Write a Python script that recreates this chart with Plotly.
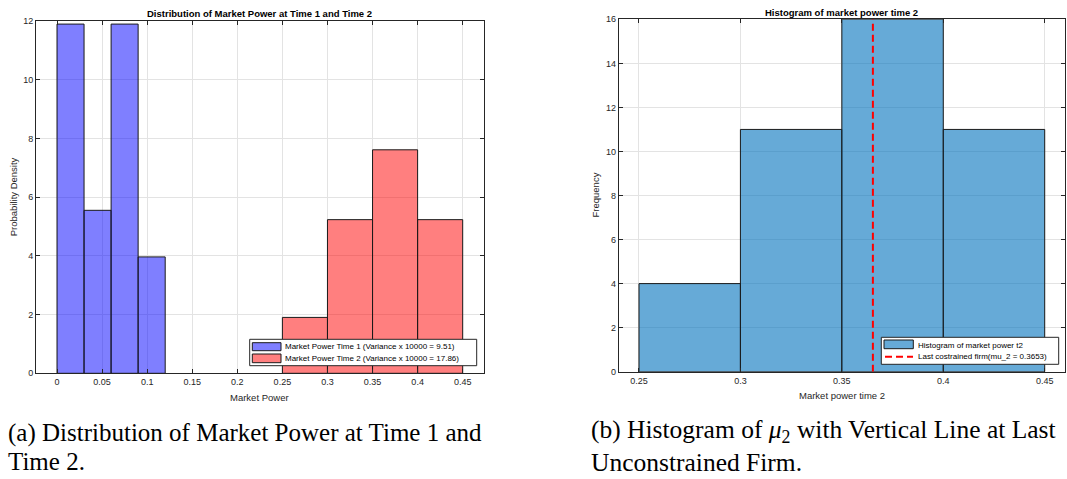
import plotly.graph_objects as go

# ---- data ----
t1_edges = [0.0, 0.03, 0.06, 0.09, 0.12]
t1_density = [11.905, 5.556, 11.905, 3.968]
t2_edges = [0.25, 0.30, 0.35, 0.40, 0.45]
t2_density = [1.905, 5.238, 7.619, 5.238]
t2_counts = [4, 11, 16, 11]
mu2_last = 0.3653

left_xticks = [0, 0.05, 0.1, 0.15, 0.2, 0.25, 0.3, 0.35, 0.4, 0.45]
left_yticks = [0, 2, 4, 6, 8, 10, 12]
right_xticks = [0.25, 0.3, 0.35, 0.4, 0.45]
right_yticks = [0, 2, 4, 6, 8, 10, 12, 14, 16]

name_t1 = "Market Power Time 1 (Variance x 10000 = 9.51)"
name_t2 = "Market Power Time 2 (Variance x 10000 = 17.86)"
name_h2 = "Histogram of market power t2"
name_vl = "Last costrained firm(mu_2 = 0.3653)"

W, H = 1067, 479
BLUE = "rgba(0,0,255,0.5)"
RED = "rgba(255,0,0,0.5)"
HIST = "rgba(0,114,189,0.6)"
EDGE = "#1a1a1a"
SANS = "Liberation Sans, Arial, sans-serif"


def centers(e):
    return [(e[i] + e[i + 1]) / 2 for i in range(len(e) - 1)]


def widths(e):
    return [e[i + 1] - e[i] for i in range(len(e) - 1)]


def px(x):
    return x / W


def py(y):
    return 1 - y / H


fig = go.Figure()

fig.add_trace(go.Bar(
    x=centers(t1_edges), y=t1_density, width=widths(t1_edges),
    marker=dict(color=BLUE, line=dict(color=EDGE, width=1)),
    name=name_t1, xaxis="x", yaxis="y"))
fig.add_trace(go.Bar(
    x=centers(t2_edges), y=t2_density, width=widths(t2_edges),
    marker=dict(color=RED, line=dict(color=EDGE, width=1)),
    name=name_t2, xaxis="x", yaxis="y"))
fig.add_trace(go.Bar(
    x=centers(t2_edges), y=t2_counts, width=widths(t2_edges),
    marker=dict(color=HIST, line=dict(color=EDGE, width=1)),
    name=name_h2, xaxis="x2", yaxis="y2"))
fig.add_trace(go.Scatter(
    x=[mu2_last, mu2_last], y=[0, right_yticks[-1]], mode="lines",
    line=dict(color="#ff0000", width=2, dash="7px,4px"),
    name=name_vl, xaxis="x2", yaxis="y2"))

axis_font = dict(family=SANS, size=9, color="#262626")
common = dict(showline=True, linecolor="#262626", linewidth=1, mirror="ticks",
              ticks="inside", ticklen=4, tickcolor="#262626",
              showgrid=True, gridcolor="#e3e3e3", gridwidth=1,
              zeroline=False, tickfont=axis_font, automargin=False)

L1, R1, T1, B1 = 36, 483.7, 21.3, 373.3
L2, R2, T2, B2 = 618.7, 1065, 19.3, 371.7

fig.update_layout(
    width=W, height=H,
    margin=dict(l=0, r=0, t=0, b=0, autoexpand=False),
    paper_bgcolor="white", plot_bgcolor="white",
    barmode="overlay", bargap=0, showlegend=False,
    xaxis=dict(domain=[px(L1), px(R1)], range=[-0.0233, 0.4733],
               tickvals=left_xticks, anchor="y", **common),
    yaxis=dict(domain=[py(B1), py(T1)], range=[0, 12],
               tickvals=left_yticks, anchor="x", **common),
    xaxis2=dict(domain=[px(L2), px(R2)], range=[0.24, 0.46],
                tickvals=right_xticks, anchor="y2", **common),
    yaxis2=dict(domain=[py(B2), py(T2)], range=[0, 16],
                tickvals=right_yticks, anchor="x2", **common),
)


def ann(text, x, y, size, color="#262626", xanchor="center", angle=0, family=SANS):
    fig.add_annotation(text=text, xref="paper", yref="paper", x=px(x), y=py(y),
                       xanchor=xanchor, yanchor="middle", showarrow=False,
                       textangle=angle, font=dict(family=family, size=size, color=color))


# titles
ann("<b>Distribution of Market Power at Time 1 and Time 2</b>", (L1 + R1) / 2, 14, 9.5, "#000000")
ann("<b>Histogram of market power time 2</b>", (L2 + R2) / 2, 12, 9.5, "#000000")
# axis titles
ann("Market Power", (L1 + R1) / 2, 397, 9.5)
ann("Probability Density", 13, (T1 + B1) / 2, 9.5, angle=-90)
ann("Market power time 2", (L2 + R2) / 2, 395, 9.5)
ann("Frequency", 595, (T2 + B2) / 2, 9.5, angle=-90)


# ---- legends (drawn manually to match compact MATLAB legend) ----
def box(x0, y0, x1, y1, fill, line_color, lw=1):
    fig.add_shape(type="rect", xref="paper", yref="paper",
                  x0=px(x0), x1=px(x1), y0=py(y1), y1=py(y0),
                  fillcolor=fill, line=dict(color=line_color, width=lw), layer="above")


box(249.7, 339.3, 476.7, 365.7, "white", "#262626")
box(252.3, 342.7, 281, 350.7, BLUE, EDGE)
box(252.3, 354, 281, 362.7, RED, EDGE)
ann(name_t1, 282.7, 346.7, 8, "#000000", xanchor="left")
ann(name_t2, 282.7, 358.7, 8, "#000000", xanchor="left")

box(881.3, 337.3, 1058.7, 364.3, "white", "#262626")
box(884, 340, 913.3, 348.7, HIST, EDGE)
fig.add_shape(type="line", xref="paper", yref="paper",
              x0=px(885), x1=px(913), y0=py(356.7), y1=py(356.7),
              line=dict(color="#ff0000", width=2, dash="7px,4px"), layer="above")
ann(name_h2, 915.7, 345.3, 8, "#000000", xanchor="left")
ann(name_vl, 915.7, 356.7, 8, "#000000", xanchor="left")

# ---- captions ----
SERIF = "Liberation Serif, Times New Roman, serif"
captions = [
    ("(a) Distribution of Market Power at Time 1 and", 6, 433, 25),
    ("Time 2.", 6, 461, 25),
    ("(b) Histogram of <i>μ</i><sub>2</sub> with Vertical Line at Last", 589, 431, 25.5),
    ("Unconstrained Firm.", 589, 462, 25.5),
]
for txt, x, y, s in captions:
    ann(txt, x, y, s, "#000000", xanchor="left", family=SERIF)

fig.write_html("out.html",
               config={"displayModeBar": False, "staticPlot": True},
               post_script="document.body.style.margin='0';document.body.style.padding='0';")
